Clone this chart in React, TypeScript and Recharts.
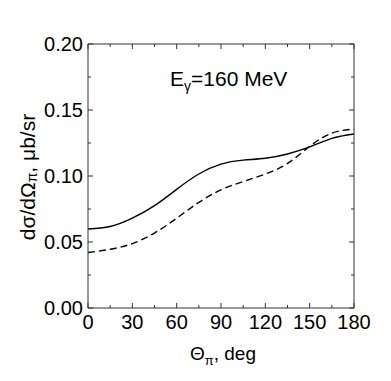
import React from 'react';
import { LineChart, Line, XAxis, YAxis, Label } from 'recharts';

const theta = [0, 15, 30, 45, 60, 75, 90, 105, 120, 135, 150, 165, 180];
const solidValues = [0.0598, 0.0617, 0.068, 0.0775, 0.0899, 0.1015, 0.109, 0.112, 0.1134, 0.1167, 0.122, 0.1285, 0.1318];
const dashedValues = [0.042, 0.0445, 0.0488, 0.0568, 0.068, 0.08, 0.0895, 0.0958, 0.1015, 0.1095, 0.1225, 0.1325, 0.1355];
const xTicks = [0, 15, 30, 45, 60, 75, 90, 105, 120, 135, 150, 165, 180];
const xMajor = [0, 30, 60, 90, 120, 150, 180];
const yTicks = [0, 0.025, 0.05, 0.075, 0.1, 0.125, 0.15, 0.175, 0.2];
const yMajor = [0, 0.05, 0.1, 0.15, 0.2];

const data = theta.map((t, i) => ({ theta: t, solid: solidValues[i], dashed: dashedValues[i] }));

const FONT = '"Liberation Sans", Arial, Helvetica, sans-serif';
const AXIS = '#333';
const MAJ = 5;
const MIN = 3;

const isMajorX = (v: number) => xMajor.some((m) => Math.abs(m - v) < 1e-6);
const isMajorY = (v: number) => yMajor.some((m) => Math.abs(m - v) < 1e-6);

const BottomTick = (p: any) => {
  const { x, y, payload } = p;
  const major = isMajorX(payload.value);
  return (
    <g>
      <line x1={x} y1={y} x2={x} y2={y - (major ? MAJ : MIN)} stroke={AXIS} strokeWidth={1} />
      {major && (
        <text x={x} y={y + 21} textAnchor="middle" fontSize={20} fontFamily={FONT} fill="#000">
          {payload.value}
        </text>
      )}
    </g>
  );
};

const TopTick = (p: any) => {
  const { x, y, payload } = p;
  const major = isMajorX(payload.value);
  return <line x1={x} y1={y} x2={x} y2={y + (major ? MAJ : MIN)} stroke={AXIS} strokeWidth={1} />;
};

const LeftTick = (p: any) => {
  const { x, y, payload } = p;
  const major = isMajorY(payload.value);
  return (
    <g>
      <line x1={x} y1={y} x2={x + (major ? MAJ : MIN)} y2={y} stroke={AXIS} strokeWidth={1} />
      {major && (
        <text x={x - 5} y={y} dy="0.36em" textAnchor="end" fontSize={20} fontFamily={FONT} fill="#000">
          {payload.value.toFixed(2)}
        </text>
      )}
    </g>
  );
};

const RightTick = (p: any) => {
  const { x, y, payload } = p;
  const major = isMajorY(payload.value);
  return <line x1={x} y1={y} x2={x - (major ? MAJ : MIN)} y2={y} stroke={AXIS} strokeWidth={1} />;
};

const YTitle = () => (
  <text
    x={27}
    y={177}
    transform="rotate(-90, 27, 177)"
    textAnchor="middle"
    dominantBaseline="central"
    fontSize={21}
    fontFamily={FONT}
    fill="#000"
  >
    dσ/dΩ
    <tspan dy={5} fontSize={14}>π</tspan>
    <tspan dy={-5}>, μb/sr</tspan>
  </text>
);

const XTitle = () => (
  <text x={223} y={360} textAnchor="middle" fontSize={19} fontFamily={FONT} fill="#000">
    Θ
    <tspan dy={5} fontSize={13}>π</tspan>
    <tspan dy={-5}>, deg</tspan>
  </text>
);

const Annotation = () => (
  <text x={170} y={86} fontSize={21} fontFamily={FONT} fill="#000">
    E
    <tspan dy={5} fontSize={14}>γ</tspan>
    <tspan dy={-5}>=160 MeV</tspan>
  </text>
);

export default function App() {
  return (
    <div style={{ position: 'absolute', left: 0, top: 0, background: '#fff' }}>
      <LineChart width={391} height={381} data={data} margin={{ top: 43, right: 36, bottom: 0, left: 0 }}>
        <XAxis
          xAxisId="bottom"
          dataKey="theta"
          type="number"
          domain={[0, 180]}
          ticks={xTicks}
          interval={0}
          tickSize={0}
          tickMargin={0}
          tick={<BottomTick />}
          axisLine={{ stroke: AXIS, strokeWidth: 1 }}
          height={73}
          allowDataOverflow
        >
          <Label content={<XTitle />} />
        </XAxis>
        <XAxis
          xAxisId="top"
          orientation="top"
          dataKey="theta"
          type="number"
          domain={[0, 180]}
          ticks={xTicks}
          interval={0}
          tickSize={0}
          tickMargin={0}
          tick={<TopTick />}
          axisLine={{ stroke: AXIS, strokeWidth: 1 }}
          height={1}
          allowDataOverflow
        >
          <Label content={<Annotation />} />
        </XAxis>
        <YAxis
          yAxisId="left"
          type="number"
          domain={[0, 0.2]}
          ticks={yTicks}
          interval={0}
          tickSize={0}
          tickMargin={0}
          tick={<LeftTick />}
          axisLine={{ stroke: AXIS, strokeWidth: 1 }}
          width={88}
          allowDataOverflow
        >
          <Label content={<YTitle />} />
        </YAxis>
        <YAxis
          yAxisId="right"
          orientation="right"
          type="number"
          domain={[0, 0.2]}
          ticks={yTicks}
          interval={0}
          tickSize={0}
          tickMargin={0}
          tick={<RightTick />}
          axisLine={{ stroke: AXIS, strokeWidth: 1 }}
          width={1}
          allowDataOverflow
        />
        <Line
          xAxisId="bottom"
          yAxisId="left"
          type="natural"
          dataKey="solid"
          stroke="#000"
          strokeWidth={1.4}
          dot={false}
          isAnimationActive={false}
        />
        <Line
          xAxisId="bottom"
          yAxisId="left"
          type="natural"
          dataKey="dashed"
          stroke="#000"
          strokeWidth={1.4}
          strokeDasharray="7 4"
          dot={false}
          isAnimationActive={false}
        />
      </LineChart>
    </div>
  );
}
